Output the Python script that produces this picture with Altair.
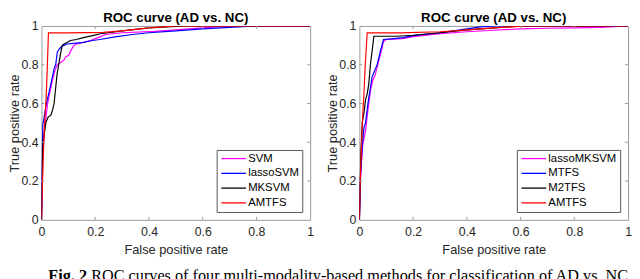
import altair as alt
import pandas as pd

# ---------------- data ----------------
left_methods = ["SVM", "lassoSVM", "MKSVM", "AMTFS"]
right_methods = ["lassoMKSVM", "MTFS", "M2TFS", "AMTFS"]
line_colors = ["#ff00ff", "#0000ff", "#000000", "#ff0000"]
axis_values = [0, 0.2, 0.4, 0.6, 0.8, 1]
inner_ticks = [0.2, 0.4, 0.6, 0.8]

svm_fpr = [0, 0.003, 0.006, 0.01, 0.016, 0.023, 0.03, 0.041, 0.05, 0.059, 0.07, 0.084, 0.09, 0.102, 0.112,
           0.12, 0.131, 0.156, 0.182, 0.21, 0.24, 0.3, 0.42, 0.5, 0.6, 0.7, 1.0]
svm_tpr = [0, 0.2, 0.35, 0.45, 0.52, 0.6, 0.65, 0.72, 0.77, 0.8, 0.81, 0.825, 0.84, 0.85, 0.88,
           0.9, 0.907, 0.915, 0.925, 0.94, 0.956, 0.965, 0.972, 0.98, 0.99, 1.0, 1.0]

lsvm_fpr = [0, 0.002, 0.004, 0.005, 0.01, 0.017, 0.025, 0.035, 0.047, 0.053, 0.059, 0.066, 0.072, 0.084,
            0.096, 0.12, 0.156, 0.19, 0.217, 0.28, 0.338, 0.4, 0.5, 0.6, 0.7, 0.8, 1.0]
lsvm_tpr = [0, 0.25, 0.4, 0.49, 0.53, 0.59, 0.64, 0.7, 0.78, 0.8, 0.866, 0.88, 0.89, 0.9,
            0.907, 0.91, 0.915, 0.925, 0.93, 0.945, 0.956, 0.965, 0.975, 0.985, 0.993, 1.0, 1.0]

mksvm_fpr = [0, 0.003, 0.006, 0.011, 0.017, 0.025, 0.035, 0.042, 0.047, 0.052, 0.058, 0.064, 0.07, 0.077,
             0.084, 0.095, 0.108, 0.13, 0.156, 0.19, 0.22, 0.3, 0.4, 0.5, 0.55, 1.0]
mksvm_tpr = [0, 0.3, 0.4, 0.45, 0.505, 0.53, 0.54, 0.57, 0.6, 0.67, 0.75, 0.8, 0.85, 0.9,
             0.907, 0.915, 0.925, 0.93, 0.94, 0.95, 0.96, 0.975, 0.99, 0.998, 1.0, 1.0]

amtfs_l_fpr = [0, 0.003, 0.006, 0.01, 0.014, 0.018, 0.022, 0.026, 0.1, 0.23, 0.3, 0.4, 0.5, 1.0]
amtfs_l_tpr = [0, 0.15, 0.3, 0.45, 0.55, 0.65, 0.8, 0.964, 0.964, 0.967, 0.975, 0.99, 1.0, 1.0]

lmksvm_fpr = [0, 0.004, 0.008, 0.012, 0.017, 0.022, 0.028, 0.035, 0.042, 0.05, 0.057, 0.065, 0.072, 0.08,
              0.09, 0.1, 0.16, 0.2, 0.3, 0.4, 0.5, 0.6, 0.7, 0.8, 0.9, 0.95, 1.0]
lmksvm_tpr = [0, 0.2, 0.3, 0.38, 0.42, 0.45, 0.52, 0.6, 0.67, 0.72, 0.74, 0.78, 0.82, 0.86,
              0.92, 0.93, 0.935, 0.945, 0.96, 0.97, 0.978, 0.985, 0.988, 0.99, 0.993, 0.996, 1.0]

mtfs_fpr = [0, 0.004, 0.008, 0.012, 0.017, 0.023, 0.029, 0.035, 0.041, 0.047, 0.054, 0.06, 0.066, 0.072,
            0.08, 0.09, 0.13, 0.163, 0.2, 0.3, 0.4, 0.45, 0.5, 1.0]
mtfs_tpr = [0, 0.22, 0.32, 0.4, 0.474, 0.5, 0.57, 0.63, 0.68, 0.735, 0.76, 0.78, 0.8, 0.833,
            0.88, 0.93, 0.935, 0.94, 0.95, 0.965, 0.985, 0.995, 1.0, 1.0]

m2tfs_fpr = [0, 0.003, 0.006, 0.011, 0.017, 0.023, 0.029, 0.035, 0.041, 0.047, 0.054, 0.1, 0.14, 0.2,
             0.3, 0.4, 0.5, 0.6, 1.0]
m2tfs_tpr = [0, 0.2, 0.35, 0.506, 0.55, 0.62, 0.65, 0.70, 0.80, 0.866, 0.947, 0.947, 0.947, 0.952,
             0.965, 0.98, 0.99, 1.0, 1.0]

amtfs_r_fpr = [0, 0.003, 0.007, 0.011, 0.014, 0.017, 0.022, 0.029, 0.15, 0.3, 0.405, 0.5, 0.62, 1.0]
amtfs_r_tpr = [0, 0.2, 0.35, 0.49, 0.58, 0.65, 0.8, 0.964, 0.964, 0.97, 0.98, 0.99, 1.0, 1.0]

panel_title = "ROC curve (AD vs. NC)"
x_title = "False positive rate"
y_title = "True positive rate"
caption_bold = "Fig. 2"
caption_rest = "ROC curves of four multi-modality-based methods for classification of AD vs. NC"

# ---------------- styling ----------------
H = 197
BOX = "#9a9a9a"
TXT = "#262626"
FONT = "Liberation Sans"


def make_panel(names, series, W, with_caption=False):
    xs = alt.Scale(domain=[0, 1], nice=False, zero=False)
    ys = alt.Scale(domain=[0, 1], nice=False, zero=False)
    cs = alt.Scale(domain=names, range=line_colors)
    legend = alt.Legend(
        title=None, orient="bottom-right", offset=8,
        symbolType="M-1,0H5.25", symbolSize=64, symbolStrokeWidth=1.3,
        labelFont=FONT, labelFontSize=11.5, labelColor="#000000",
        labelOffset=17.5, padding=3, rowPadding=2,
        fillColor="white", strokeColor="#555555",
    )
    xaxis = alt.Axis(values=axis_values, format="~g", title=x_title, grid=False, ticks=False,
                     tickSize=0, domain=False, labelFont=FONT, labelFontSize=12.5, labelColor=TXT,
                     labelPadding=6, labelFlush=False, labelOverlap=False,
                     titleFont=FONT, titleFontSize=13, titleFontWeight="normal",
                     titleColor=TXT, titlePadding=6)
    yaxis = alt.Axis(values=axis_values, format="~g", title=y_title, grid=False, ticks=False,
                     tickSize=0, domain=False, labelFont=FONT, labelFontSize=12.5, labelColor=TXT,
                     labelPadding=3.5, labelFlush=False, labelOverlap=False,
                     titleFont=FONT, titleFontSize=13, titleFontWeight="normal",
                     titleColor=TXT, titlePadding=-1)
    layers = []
    for name, (f, t) in zip(names, series):
        df = pd.DataFrame({"method": name, "fpr": f, "tpr": t, "idx": list(range(len(f)))})
        layers.append(
            alt.Chart(df).mark_line(strokeWidth=1.2, clip=True).encode(
                x=alt.X("fpr:Q", scale=xs, axis=xaxis),
                y=alt.Y("tpr:Q", scale=ys, axis=yaxis),
                color=alt.Color("method:N", scale=cs, legend=legend),
                order="idx:Q",
            )
        )
    tdf = pd.DataFrame({"fpr": inner_ticks, "tpr": inner_ticks})
    tick_style = dict(color=BOX, strokeWidth=1)
    layers.append(alt.Chart(tdf).mark_rule(**tick_style).encode(
        x=alt.X("fpr:Q", scale=xs, axis=xaxis), y=alt.value(H), y2=alt.value(H - 3)))
    layers.append(alt.Chart(tdf).mark_rule(**tick_style).encode(
        x=alt.X("fpr:Q", scale=xs, axis=xaxis), y=alt.value(0), y2=alt.value(3)))
    layers.append(alt.Chart(tdf).mark_rule(**tick_style).encode(
        y=alt.Y("tpr:Q", scale=ys, axis=yaxis), x=alt.value(0), x2=alt.value(3)))
    layers.append(alt.Chart(tdf).mark_rule(**tick_style).encode(
        y=alt.Y("tpr:Q", scale=ys, axis=yaxis), x=alt.value(W), x2=alt.value(W - 3)))
    if with_caption:
        one = pd.DataFrame({"a": [0]})
        layers.append(alt.Chart(one).mark_text(
            text=caption_bold, align="left", baseline="alphabetic", font="Liberation Serif",
            fontSize=16.5, fontWeight="bold", color="#000000").encode(x=alt.value(7), y=alt.value(259.5)))
        layers.append(alt.Chart(one).mark_text(
            text=caption_rest, align="left", baseline="alphabetic", font="Liberation Serif",
            fontSize=16.5, color="#000000").encode(x=alt.value(50.5), y=alt.value(259.5)))
    return alt.layer(*layers).properties(
        width=W, height=H,
        title=alt.TitleParams(panel_title, font=FONT, fontSize=13.5, fontWeight="bold",
                              color="#000000", anchor="middle", offset=-4),
    )


left = make_panel(left_methods,
                  [(svm_fpr, svm_tpr), (lsvm_fpr, lsvm_tpr), (mksvm_fpr, mksvm_tpr), (amtfs_l_fpr, amtfs_l_tpr)],
                  273, with_caption=True)
right = make_panel(right_methods,
                   [(lmksvm_fpr, lmksvm_tpr), (mtfs_fpr, mtfs_tpr), (m2tfs_fpr, m2tfs_tpr), (amtfs_r_fpr, amtfs_r_tpr)],
                   273)

chart = alt.hconcat(left, right, spacing=50, bounds="flush").resolve_scale(
    color="independent").properties(padding=0).configure_view(stroke=BOX, strokeWidth=1)

chart.save("out.html", embed_options={"renderer": "svg", "actions": False})
